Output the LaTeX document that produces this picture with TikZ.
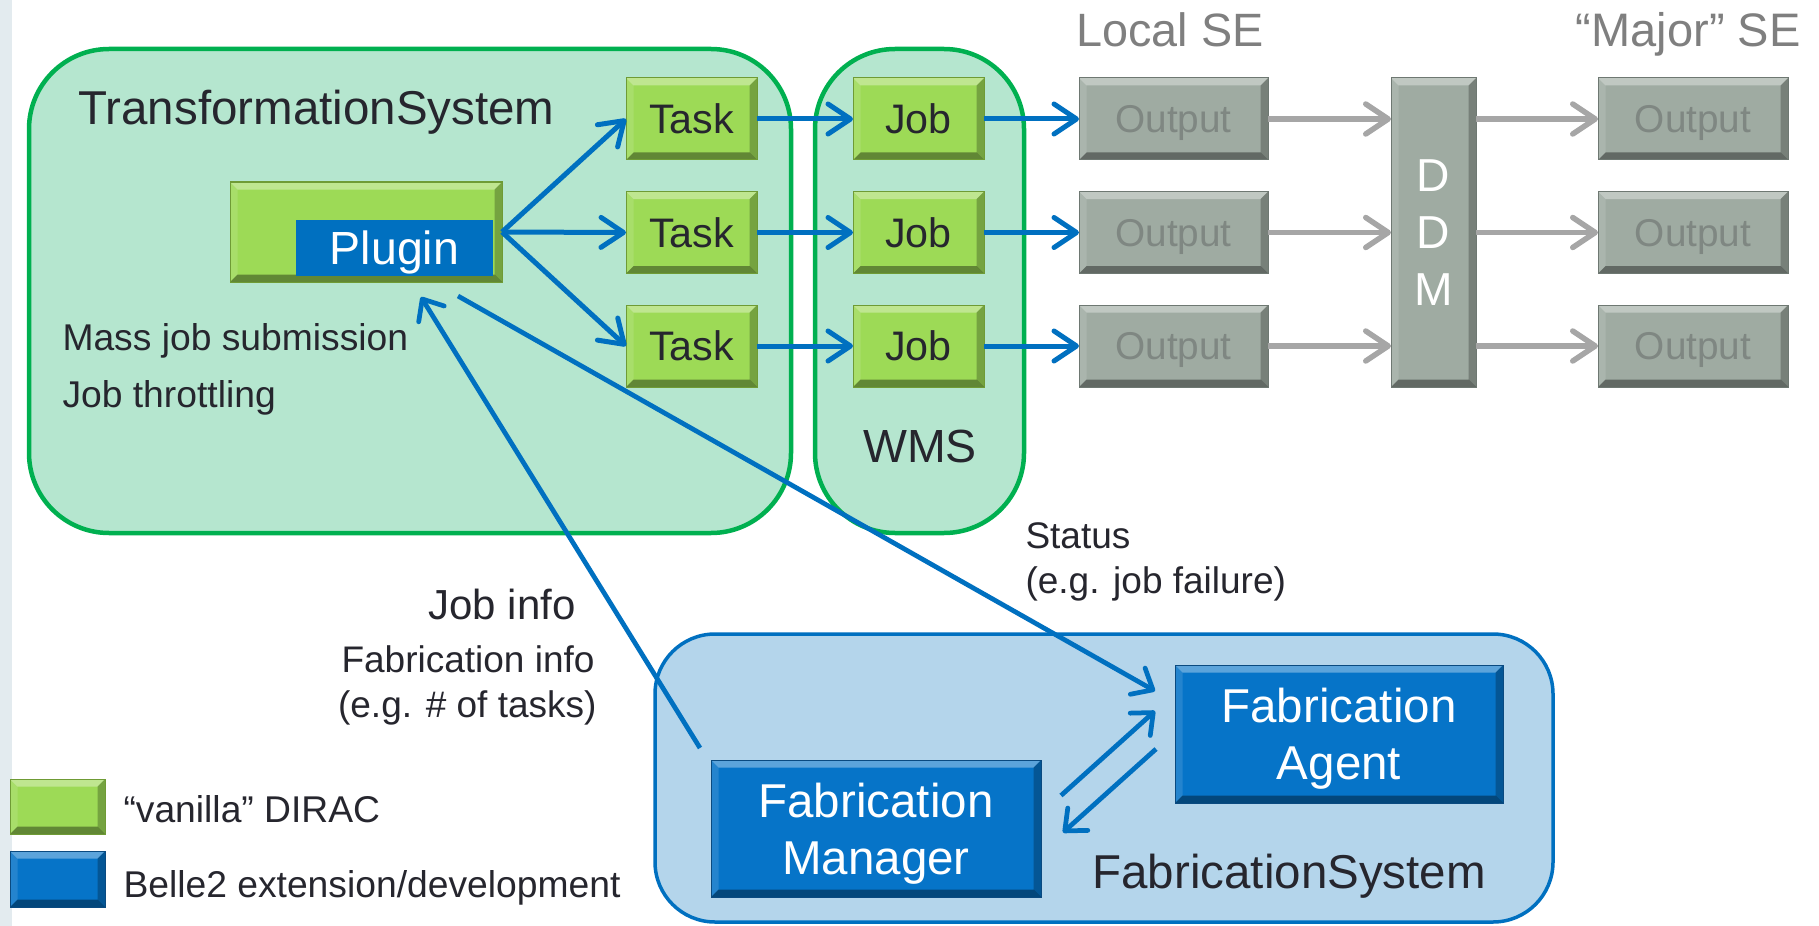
\documentclass[tikz,border=0pt]{standalone}
\usepackage{fontspec}
\setmainfont{Liberation Sans}
\usetikzlibrary{arrows.meta,calc}
\definecolor{tsfill}{HTML}{B5E6CF}
\definecolor{tsline}{HTML}{00B050}
\definecolor{fsfill}{HTML}{B4D5EB}
\definecolor{fsline}{HTML}{0070C0}
\definecolor{grn}{HTML}{9DDA56}
\definecolor{grnline}{HTML}{6F9B35}
\definecolor{gry}{HTML}{9FABA2}
\definecolor{gryline}{HTML}{6E7872}
\definecolor{grytext}{HTML}{7F8782}
\definecolor{blu}{HTML}{0674C8}
\definecolor{bluline}{HTML}{0A4A80}
\definecolor{arrblue}{HTML}{0070C0}
\definecolor{arrgray}{HTML}{A6A6A6}
\definecolor{txt}{HTML}{26262E}
\definecolor{setext}{HTML}{7F7F7F}
\definecolor{edgestrip}{HTML}{E3EBEF}
\newcommand\fsz[1]{\fontsize{#1pt}{#1pt}\selectfont}
\newcommand\fszl[2]{\fontsize{#1pt}{#2pt}\selectfont}
\tikzset{
  sz/.style 2 args={minimum width=#1*0.4pt, minimum height=#2*0.4pt, inner sep=0pt, outer sep=0pt},
  capc/.style={text height=#1, text depth=0pt},
  bev/.style={path picture={
    \fill[white,opacity=0.35] (path picture bounding box.north west) -- (path picture bounding box.north east) -- ([shift={(-3pt,-3pt)}]path picture bounding box.north east) -- ([shift={(3pt,-3pt)}]path picture bounding box.north west) -- cycle;
    \fill[white,opacity=0.12] (path picture bounding box.north west) -- ([shift={(3pt,-3pt)}]path picture bounding box.north west) -- ([shift={(3pt,3pt)}]path picture bounding box.south west) -- (path picture bounding box.south west) -- cycle;
    \fill[black,opacity=0.38] (path picture bounding box.south west) -- (path picture bounding box.south east) -- ([shift={(-3pt,3pt)}]path picture bounding box.south east) -- ([shift={(3pt,3pt)}]path picture bounding box.south west) -- cycle;
    \fill[black,opacity=0.25] (path picture bounding box.north east) -- (path picture bounding box.south east) -- ([shift={(-3pt,3pt)}]path picture bounding box.south east) -- ([shift={(-3pt,-3pt)}]path picture bounding box.north east) -- cycle;
  }},
  gbox/.style={bev, capc=11.8pt, fill=grn, draw=grnline, line width=0.4pt, text=txt, font=\fsz{16.5}},
  obox/.style={bev, capc=11.1pt, fill=gry, draw=gryline, line width=0.4pt, text=grytext, font=\fsz{15.5}},
  bbox/.style={bev, text depth=0pt, fill=blu, draw=bluline, line width=0.4pt, text=white, font=\fszl{19}{22.8}, align=center},
  tscont/.style={fill=tsfill, draw=tsline, line width=1.8pt, rounded corners=32pt},
  fscont/.style={fill=fsfill, draw=fsline, line width=1.4pt, rounded corners=24pt},
  lbl/.style={inner sep=0pt, text=txt},
  barrow/.style={draw=arrblue, line width=2pt, -{Straight Barb[length=9pt,width=12pt,round]}},
  garrow/.style={draw=arrgray, line width=2.2pt, -{Straight Barb[length=9pt,width=12pt,round]}},
  tarrow/.style={draw=arrblue, line width=1.9pt, -{Straight Barb[length=7pt,width=12pt,round]}},
}
\begin{document}
\begin{tikzpicture}[x=0.4pt,y=-0.4pt]
\useasboundingbox (0,0) rectangle (1819,926);
\fill[white] (0,0) rectangle (1819,926);
\fill[edgestrip] (0,0) rectangle (12,926);

% containers
\node[tscont, sz={762}{484}] (ts) at (410,291) {};
\node[tscont, sz={209}{484}] (wms) at (919.5,291) {};
\node[fscont, sz={898}{288}] (fs) at (1104,778) {};

% container labels
\node[lbl, anchor=base west, font=\fsz{19}] (tstitle) at (78,124) {TransformationSystem};
\node[lbl, anchor=base, font=\fsz{18.6}] (wmstitle) at (920,462) {WMS};
\node[lbl, anchor=base west, font=\fsz{19}] (fstitle) at (1092,888) {FabricationSystem};
\node[lbl, anchor=base west, font=\fsz{18.7}, text=setext] (localse) at (1076,47) {Local SE};
\node[lbl, anchor=base east, font=\fsz{18.8}, text=setext] (majorse) at (1801,47) {“Major” SE};
\node[lbl, anchor=base west, font=\fsz{14.9}] (mass) at (62,350) {Mass job submission};
\node[lbl, anchor=base west, font=\fsz{14.9}] (throttle) at (62,407) {Job throttling};
\node[lbl, anchor=base west, font=\fsz{14.8}] (status) at (1025,548) {Status};
\node[lbl, anchor=base west, font=\fsz{14.8}] (status2) at (1025,593) {(e.g. job failure)};
\node[lbl, anchor=base east, font=\fsz{16.8}] (jobinfo) at (576,619) {Job info};
\node[lbl, anchor=base east, font=\fsz{14.8}] (fabinfo) at (595,672) {Fabrication info};
\node[lbl, anchor=base east, font=\fsz{14.8}] (fabinfo2) at (597,717) {(e.g. \# of tasks)};

% plugin
\node[gbox, sz={272}{100}] (pluginbox) at (366,232) {};
\node[capc=13.3pt, fill=arrblue, text=white, font=\fsz{18.6}, sz={197}{56}] (plugin) at (394.5,248) {Plugin};

% tasks, jobs, outputs
\foreach \i/\y in {1/119,2/232.5,3/346}{
  \node[gbox, sz={131}{82}] (task\i) at (691.5,\y) {Task};
  \node[gbox, sz={131}{82}] (job\i) at (918.5,\y) {Job};
  \node[obox, sz={189}{82}] (outL\i) at (1173.5,\y) {Output};
  \node[obox, sz={190}{82}] (outM\i) at (1693,\y) {Output};
}
\node[bev, fill=gry, draw=gryline, line width=0.4pt, sz={85}{309}, text=white, font=\fszl{18.5}{22.8}, align=center] (ddm) at (1433.5,232.5) {D\\D\\M};

% fabrication boxes
\node[bbox, sz={330}{137}] (manager) at (876,828.5) {Fabrication\\Manager};
\node[bbox, sz={328}{138}] (agent) at (1339,734) {Fabrication\\Agent};

% legend
\node[gbox, sz={95}{55}] (leg1) at (57.5,806.5) {};
\node[bbox, sz={95}{56}] (leg2) at (57.5,879) {};
\node[lbl, anchor=base west, font=\fsz{14.9}] (leg1t) at (123,822) {“vanilla” DIRAC};
\node[lbl, anchor=base west, font=\fsz{14.9}] (leg2t) at (123,897) {Belle2 extension/development};

% arrows
\foreach \i in {1,2,3}{
  \draw[barrow] (pluginbox.east) -- (task\i.west);
  \draw[barrow] (task\i.east) -- (job\i.west);
  \draw[barrow] (job\i.east) -- (outL\i.west);
  \draw[garrow] (outL\i.east) -- (outL\i.east -| ddm.west);
  \draw[garrow] (outM\i.west -| ddm.east) -- (outM\i.west);
}
\draw[tarrow] ($(pluginbox.south)+(92,14)$) -- ($(agent.west)+(-20,-43)$);
\draw[tarrow] ($(manager.north west)+(-11,-12)$) -- ($(pluginbox.south)+(55,15)$);
\draw[tarrow] ($(manager.east)+(20,-33)$) -- ($(agent.west)+(-20,-23)$);
\draw[tarrow] ($(agent.west)+(-19,15)$) -- ($(manager.east)+(22,4)$);
\end{tikzpicture}
\end{document}
